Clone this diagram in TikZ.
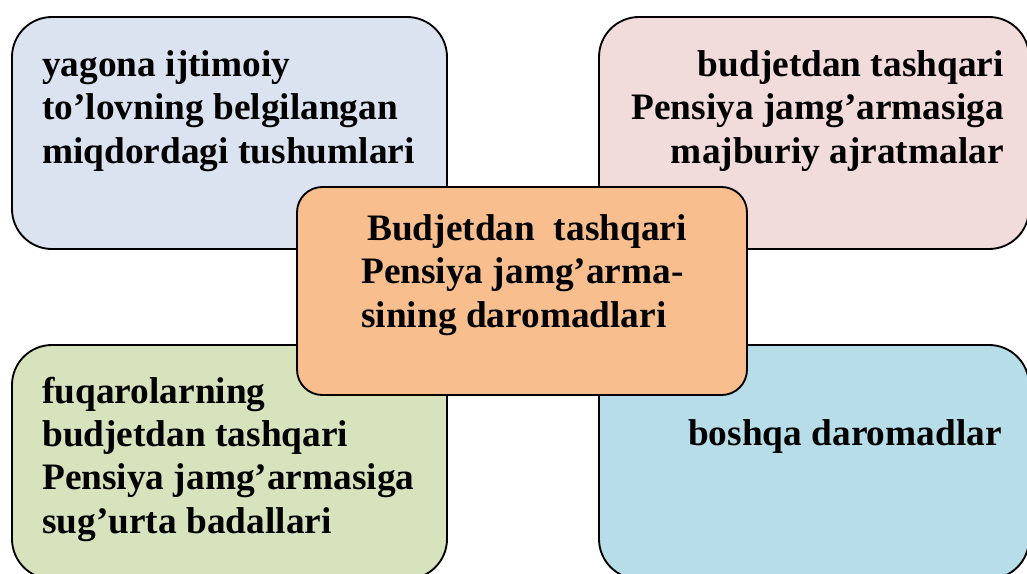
\documentclass[tikz,border=0pt]{standalone}
\usepackage{fontspec}
\setmainfont{Liberation Serif}
\definecolor{cTL}{HTML}{DBE3F0}
\definecolor{cTR}{HTML}{F2DCDB}
\definecolor{cBL}{HTML}{D7E3BD}
\definecolor{cBR}{HTML}{B7DDE8}
\definecolor{cC}{HTML}{F8BE8E}
\tikzset{
  box/.style={draw=black, line width=1.4pt, rounded corners=30pt, inner sep=0pt},
  cbox/.style={draw=black, line width=1.4pt, rounded corners=19pt, inner sep=0pt},
  txt/.style={inner sep=0pt, font=\bfseries\fontsize{28}{32.3}\selectfont}
}
\begin{document}
\begin{tikzpicture}[x=0.75pt,y=-0.75pt]
\useasboundingbox (0,0) rectangle (1027,574);
\clip (0,0) rectangle (1027,574);
\node[box, fill=cTL, minimum width=435*0.75pt, minimum height=232*0.75pt] (tl) at (229.5,133) {};
\node[box, fill=cTR, minimum width=430*0.75pt, minimum height=232*0.75pt] (tr) at (814,133) {};
\node[box, fill=cBL, minimum width=435*0.75pt, minimum height=234*0.75pt] (bl) at (229.5,462) {};
\node[box, fill=cBR, minimum width=430*0.75pt, minimum height=234*0.75pt] (br) at (814,462) {};
\node[cbox, fill=cC, minimum width=450*0.75pt, minimum height=208*0.75pt] (c) at (522,291) {};
\node[txt, align=left, anchor=base west] (tlt) at (42,163) {yagona ijtimoiy\\to’lovning belgilangan\\miqdordagi tushumlari};
\node[txt, align=right, anchor=base east] (trt) at (1004,163) {budjetdan tashqari\\Pensiya jamg’armasiga\\majburiy ajratmalar};
\node[txt, align=left, anchor=base west] (ct) at (361,327) {\hspace{4.5pt}Budjetdan\ \ tashqari\\Pensiya jamg’arma-\\sining daromadlari};
\node[txt, align=left, anchor=base west] (blt) at (42,533) {fuqarolarning\\budjetdan tashqari\\Pensiya jamg’armasiga\\sug’urta badallari};
\node[txt, align=right, anchor=base east] (brt) at (1002,445) {boshqa daromadlar};
\end{tikzpicture}
\end{document}
